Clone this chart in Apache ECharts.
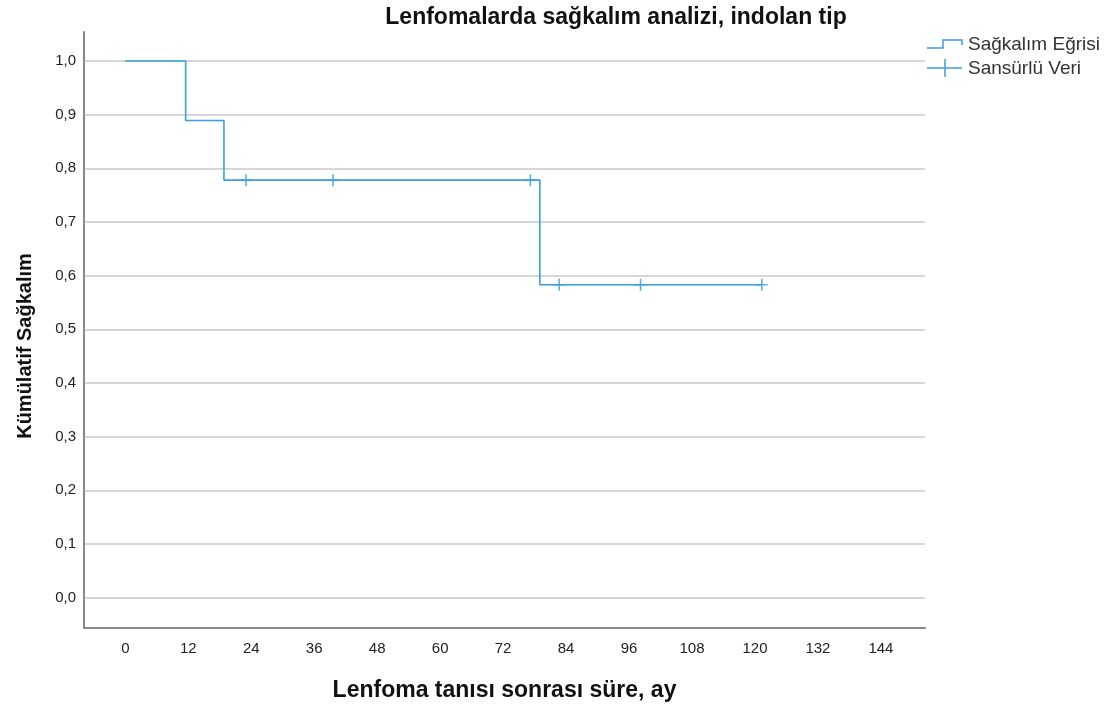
<!DOCTYPE html>
<html>
<head>
<meta charset="utf-8">
<script src="https://cdn.jsdelivr.net/npm/echarts@6/dist/echarts.min.js"></script>
<style>html,body{margin:0;padding:0;background:#fff}#c{width:1116px;height:708px}</style>
</head>
<body>
<div id="c"></div>
<script>
// Kaplan-Meier step curve
const eventTimes = [0, 11.5, 18.8, 79.0, 121.3];
const survival = [1.0, 0.889, 0.778, 0.583, 0.583];
// Censored observations
const censorTimes = [23.0, 39.6, 77.2, 82.7, 98.2, 121.3];
const censorSurvival = [0.778, 0.778, 0.778, 0.583, 0.583, 0.583];
// Tick labels
const xTicks = [0, 12, 24, 36, 48, 60, 72, 84, 96, 108, 120, 132, 144];
const yTicks = [0, 0.1, 0.2, 0.3, 0.4, 0.5, 0.6, 0.7, 0.8, 0.9, 1.0];

const titleText = 'Lenfomalarda sağkalım analizi, indolan tip';
const xName = 'Lenfoma tanısı sonrası süre, ay';
const yName = 'Kümülatif Sağkalım';
const legendNames = ['Sağkalım Eğrisi', 'Sansürlü Veri'];

const blue = '#3a9ee4';
const font = "'Liberation Sans', Arial, sans-serif";

const chart = echarts.init(document.getElementById('c'), null, {renderer: 'canvas'});
chart.setOption({
  backgroundColor: '#fff',
  animation: false,
  title: {
    text: titleText, left: 611, top: 1, textAlign: 'center',
    textStyle: {fontFamily: font, fontWeight: 'bold', fontSize: 23, color: '#111'}
  },
  grid: {left: 84, right: 191, top: 32, bottom: 80, containLabel: false, outerBoundsMode: 'none'},
  xAxis: {
    type: 'value', min: -7.87, max: 152.4,
    name: xName, nameLocation: 'middle', nameGap: 51,
    nameTextStyle: {fontFamily: font, fontWeight: 'bold', fontSize: 23, color: '#111'},
    axisLine: {show: true, onZero: false, lineStyle: {color: '#8a8a8a', width: 2}},
    axisTick: {show: false, customValues: xTicks},
    axisLabel: {customValues: xTicks, margin: 13, fontFamily: font, fontSize: 15, color: '#222'},
    splitLine: {show: false}
  },
  yAxis: {
    type: 'value', min: -0.0565, max: 1.054,
    name: yName, nameLocation: 'middle', nameGap: 49, nameRotate: 90,
    nameTextStyle: {fontFamily: font, fontWeight: 'bold', fontSize: 20, color: '#111', padding: [0, 32, 0, 0]},
    axisLine: {show: true, onZero: false, lineStyle: {color: '#8a8a8a', width: 2}},
    axisTick: {show: false, customValues: yTicks},
    axisLabel: {customValues: yTicks, margin: 8, fontFamily: font, fontSize: 15, color: '#222',
      formatter: v => v.toFixed(1).replace('.', ',')},
    splitLine: {show: true, lineStyle: {color: '#c8c8c8', width: 1.5}}
  },
  series: [
    {
      name: legendNames[0], type: 'line', step: 'end', symbol: 'none',
      data: eventTimes.map((t, i) => [t, survival[i]]),
      lineStyle: {color: blue, width: 1.6}, z: 3
    },
    {
      name: legendNames[1], type: 'scatter',
      symbol: 'path://M4.3,0 H5.7 V4.3 H10 V5.7 H5.7 V10 H4.3 V5.7 H0 V4.3 H4.3 Z',
      symbolSize: 12,
      data: censorTimes.map((t, i) => [t, censorSurvival[i]]),
      itemStyle: {color: blue}, z: 4
    }
  ],
  graphic: [
    {type: 'polyline', shape: {points: [[927, 48], [943, 48], [943, 40], [962, 40], [962, 45]]}, style: {stroke: blue, lineWidth: 1.5, fill: null}},
    {type: 'text', x: 968, y: 45, style: {text: legendNames[0], fontFamily: font, fontSize: 19, fill: '#333', verticalAlign: 'middle'}},
    {type: 'line', shape: {x1: 927, y1: 68, x2: 962, y2: 68}, style: {stroke: blue, lineWidth: 1.5}},
    {type: 'line', shape: {x1: 945, y1: 59, x2: 945, y2: 77}, style: {stroke: blue, lineWidth: 1.5}},
    {type: 'text', x: 968, y: 69, style: {text: legendNames[1], fontFamily: font, fontSize: 19, fill: '#333', verticalAlign: 'middle'}}
  ]
});
</script>
</body>
</html>
